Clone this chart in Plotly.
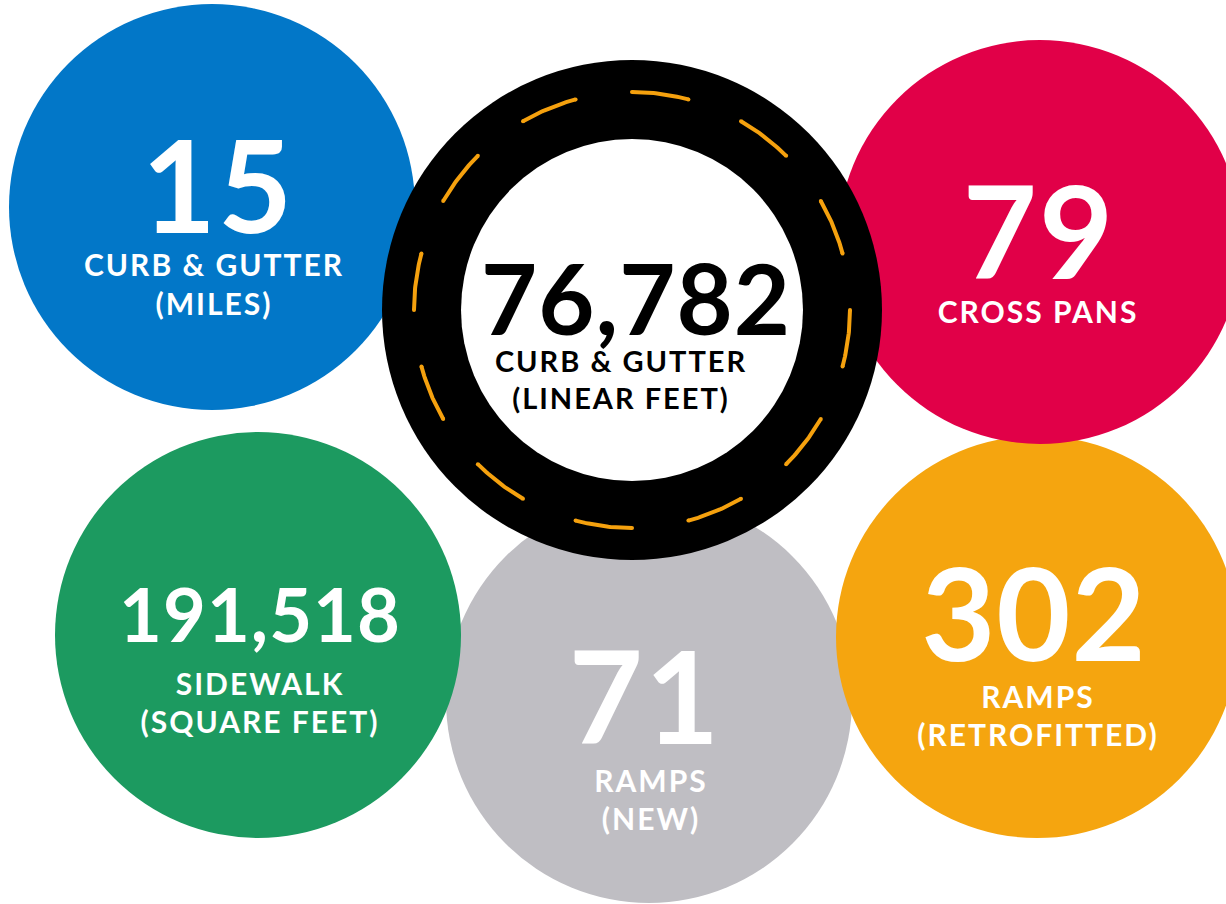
import numpy as np
import plotly.graph_objects as go

# ---- data ----
values = ["15", "76,782", "79", "191,518", "71", "302"]
labels_line1 = ["CURB & GUTTER", "CURB & GUTTER", "CROSS PANS", "SIDEWALK", "RAMPS", "RAMPS"]
labels_line2 = ["(MILES)", "(LINEAR FEET)", "", "(SQUARE FEET)", "(NEW)", "(RETROFITTED)"]

# ---- layout constants (pixel space) ----
W, H = 1226, 904
cx = [212, 632, 1040, 258, 649, 1037]
cy = [207, 310, 242, 635, 700, 637]
rad = [203, 250, 202, 203, 203, 201]
fill = ["#0277C8", "#000000", "#E10048", "#1C9A60", "#BFBEC3", "#F5A50F"]
ink = ["white", "black", "white", "white", "white", "white"]
num_size = [128, 97, 128, 74, 128, 128]
num_y = [201, 311, 247, 623, 712, 629]
num_x = [218, 636, 1039, 260, 645, 1034]
num_space = [2, 1, 2, 1, 2, 1]
lab_y1 = [268, 365, 315, 687, 784, 700]
lab_y2 = [307, 402, None, 725, 822, 738]
lab_x = [214, 621, 1038, 260, 651, 1038]
lab_size = [30, 29, 30, 30, 30, 30]
inner_r = 171
dash_r = 218
draw_order = [0, 4, 3, 5, 2, 1]

FONT = "Lato"

fig = go.Figure()
shapes = []
for i in draw_order:
    shapes.append(dict(type="circle", xref="x", yref="y",
                       x0=cx[i] - rad[i], x1=cx[i] + rad[i],
                       y0=cy[i] - rad[i], y1=cy[i] + rad[i],
                       fillcolor=fill[i], line=dict(width=0), layer="below"))
# inner white disc of the road ring
shapes.append(dict(type="circle", xref="x", yref="y",
                   x0=cx[1] - inner_r, x1=cx[1] + inner_r,
                   y0=cy[1] - inner_r, y1=cy[1] + inner_r,
                   fillcolor="white", line=dict(width=0), layer="below"))

# dashed lane markings
for k in range(12):
    a0 = np.deg2rad(k * 30)
    a1 = np.deg2rad(k * 30 + 15)
    t = np.linspace(a0, a1, 30)
    xs = cx[1] + dash_r * np.sin(t)
    ys = cy[1] - dash_r * np.cos(t)
    fig.add_trace(go.Scatter(x=xs, y=ys, mode="lines",
                             line=dict(color="#F5A10E", width=4),
                             hoverinfo="skip", showlegend=False))
    fig.add_trace(go.Scatter(x=[xs[0], xs[-1]], y=[ys[0], ys[-1]], mode="markers",
                             marker=dict(color="#F5A10E", size=4, line=dict(width=0)),
                             hoverinfo="skip", showlegend=False))

def spaced(s, px):
    s = s.replace("&", "&amp;")
    return f'<span style="letter-spacing:{px}px">{s}</span>'

for i in range(6):
    fig.add_trace(go.Scatter(x=[num_x[i]], y=[num_y[i]], mode="text",
                             text=[spaced(values[i], num_space[i])],
                             textposition="middle center",
                             textfont=dict(family=FONT, size=num_size[i], color=ink[i], weight="bold"),
                             hoverinfo="skip", showlegend=False))
    fig.add_trace(go.Scatter(x=[lab_x[i]], y=[lab_y1[i]], mode="text",
                             text=[spaced(labels_line1[i], 2)],
                             textposition="middle center",
                             textfont=dict(family=FONT, size=lab_size[i], color=ink[i], weight="bold"),
                             hoverinfo="skip", showlegend=False))
    if labels_line2[i]:
        fig.add_trace(go.Scatter(x=[lab_x[i]], y=[lab_y2[i]], mode="text",
                                 text=[spaced(labels_line2[i], 2)],
                                 textposition="middle center",
                                 textfont=dict(family=FONT, size=lab_size[i], color=ink[i], weight="bold"),
                                 hoverinfo="skip", showlegend=False))

fig.update_layout(
    width=W, height=H, margin=dict(l=0, r=0, t=0, b=0),
    paper_bgcolor="white", plot_bgcolor="white",
    shapes=shapes, showlegend=False,
    xaxis=dict(range=[0, W], visible=False, fixedrange=True),
    yaxis=dict(range=[H, 0], visible=False, fixedrange=True),
)
fig.write_html("out.html", config={"displayModeBar": False},
               post_script="document.body.style.margin='0';document.body.style.overflow='hidden';")
